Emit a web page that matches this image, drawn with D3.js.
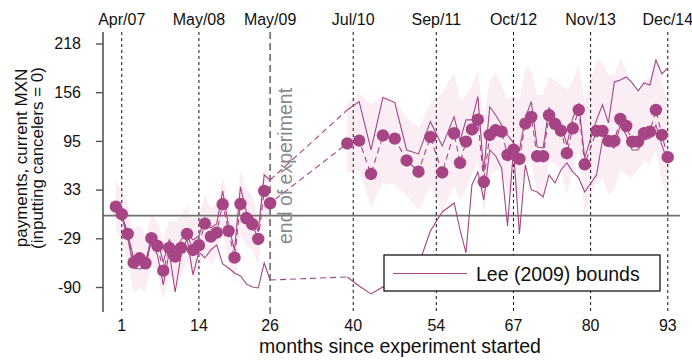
<!DOCTYPE html>
<html><head><meta charset="utf-8">
<script src="https://cdn.jsdelivr.net/npm/d3@7"></script>
<style>body{margin:0;background:#fff} svg{display:block} text{font-family:"Liberation Sans",Arial,Helvetica,sans-serif}</style>
</head><body><svg id="c" width="692" height="360"></svg>
<script>
// ---- data ----
const monthsExp = [0,1,2,3,4,5,6,7,8,9,10,11,12,13,14,15,16,17,18,19,20,21,22,23,24,25,26];
const meanExp  = [11.4,1.8,-23.2,-59.5,-54.0,-60.3,-28.6,-38.4,-69.7,-40.9,-51.9,-40.9,-23.2,-43.5,-37.5,-10.1,-26.6,-21.5,14.4,-19.4,-53.2,14.8,-3.3,-10.9,-29.5,31.3,15.7];
const upperExp = [12.3,2.2,-23.2,-53.6,-53.6,-58.7,-28.3,-30.8,-58.7,-30.8,-43.5,-30.8,-20.6,-30.8,-25.7,-2.9,-15.6,-10.5,31.3,-13.0,-43.5,36.4,4.7,-0.4,-20.6,51.6,45.2];
const lowerExp = [7.2,-1.6,-28.3,-66.3,-67.5,-66.3,-30.8,-49.8,-87.8,-46.0,-96.7,-49.8,-28.3,-75.1,-46.0,-53.6,-43.5,-37.1,-61.2,-66.3,-72.6,-76.4,-86.5,-90.3,-91.6,-59.9,-81.5];
const ciHiExp  = [44.0,32.6,13.6,-18.1,-11.8,-24.5,0.9,-8.0,-30.8,-5.4,-8.0,0.9,13.6,-8.0,0.9,26.2,9.8,13.6,47.8,19.9,-11.8,57.9,32.6,25.0,0.9,64.2,51.6];
const ciLoExp  = [-18.1,-30.8,-58.7,-96.7,-91.6,-96.7,-58.7,-71.3,-106.8,-75.1,-87.8,-75.1,-58.7,-78.9,-71.3,-43.5,-62.5,-53.6,-18.1,-56.1,-87.8,-24.5,-38.4,-43.5,-62.5,0.9,-18.1];

const monthsPost = [39,41,43,45,47,49,51,53,55,57,58,59,60,61,62,63,64,65,66,67,68,69,70,71,72,73,74,75,76,77,78,79,81,82,83,84,85,86,87,88,89,90,91,92,93];
const meanPost  = [91.5,95.0,52.8,101.6,97.6,69.9,55.7,99.7,54.7,104.4,66.8,93.8,109.2,121.6,42.7,102.2,108.2,106.4,76.9,83.6,71.8,116.6,125.1,75.3,75.3,127.2,116.2,107.6,79.1,110.7,133.9,65.1,107.3,107.3,94.6,94.6,122.5,113.6,93.8,93.8,104.4,106.4,133.9,102.2,74.0];
const upperPost = [133.9,144.4,83.2,149.8,143.2,83.2,78.2,119.1,88.3,125.4,94.6,121.3,121.3,150.8,55.4,137.7,127.6,114.9,102.2,92.1,83.2,123.8,144.4,87.0,85.8,136.5,123.8,116.2,89.6,123.8,141.5,73.1,121.3,140.3,117.5,169.4,171.9,175.7,168.1,158.0,168.1,165.6,197.3,179.5,187.1];
const lowerPost = [-77.7,-89.1,-99.2,-90.3,-94.1,-91.6,-62.5,-19.4,4.7,16.1,-18.1,-47.3,38.9,55.4,19.9,83.2,75.6,60.4,-13.0,83.2,-23.2,64.2,32.6,30.0,23.7,51.6,41.4,57.9,66.8,55.4,47.8,30.0,51.6,95.9,89.6,85.8,114.9,102.2,83.2,83.2,95.9,98.4,114.9,89.6,68.0];
const ciHiPost  = [142.8,155.5,140.3,152.9,146.6,123.8,111.1,142.8,155.5,180.8,146.6,150.4,165.6,184.6,121.3,171.9,182.1,165.6,146.6,152.9,146.6,187.1,184.6,152.9,152.9,175.7,171.9,165.6,159.3,171.9,190.9,146.6,197.3,194.7,178.3,178.3,199.8,184.6,159.3,159.3,171.9,174.5,197.3,171.9,142.8];
const ciLoPost  = [54.1,57.9,9.8,41.4,38.9,26.2,7.2,36.4,4.7,38.9,19.9,32.6,51.6,70.6,0.9,51.6,57.9,57.9,26.2,32.6,19.9,64.2,70.6,26.2,26.2,70.6,64.2,57.9,26.2,57.9,83.2,0.9,45.2,47.8,26.2,32.6,57.9,51.6,47.8,57.9,70.6,64.2,83.2,45.2,23.7];

const tickMonths = [1,14,26,40,54,67,80,93];
const dateLabels = ["Apr/07","May/08","May/09","Jul/10","Sep/11","Oct/12","Nov/13","Dec/14"];
const yTickVals = [-90.4,-28.7,33.0,94.7,156.4,218.1];
const yTickLabels = ["-90","-29","33","95","156","218"];
const endMonth = 26;

// ---- build rows ----
const rowsOf = (ms, mean, up, lo, hi, cl) => ms.map((m,i)=>({m, mean:mean[i], up:up[i], lo:lo[i], hi:hi[i], cl:cl[i]}));
const expRows = rowsOf(monthsExp, meanExp, upperExp, lowerExp, ciHiExp, ciLoExp);
const postRows = rowsOf(monthsPost, meanPost, upperPost, lowerPost, ciHiPost, ciLoPost);
const lastExp = expRows[expRows.length-1], firstPost = postRows[0];

// ---- scales ----
const x = d3.scaleLinear().domain([-2.16, 95.06]).range([103, 680]);
const y = d3.scaleLinear().domain([-90.4, 218.1]).range([287, 43.5]);
const col = '#a64485', bandCol = '#faeef4';
const svg = d3.select('#c');
const yTopPx = 32, yBotPx = 314;

// band
const area = d3.area().x(d=>x(d.m)).y0(d=>y(d.cl)).y1(d=>y(d.hi));
[expRows, postRows].forEach(r=>svg.append('path').attr('d', area(r)).attr('fill', bandCol));

// zero line
svg.append('line').attr('x1', x.range()[0]).attr('x2', x.range()[1]).attr('y1', y(0)).attr('y2', y(0))
  .attr('stroke', '#707070').attr('stroke-width', 1.6);

// vertical reference lines
tickMonths.forEach(m=>{
  const isEnd = m === endMonth;
  svg.append('line').attr('x1', x(m)).attr('x2', x(m)).attr('y1', yTopPx).attr('y2', yBotPx)
    .attr('stroke', isEnd ? '#7a7a7a' : '#111').attr('stroke-width', isEnd ? 1.8 : 1)
    .attr('stroke-dasharray', isEnd ? '7,4' : '3,3');
});

// end of experiment label
svg.append('text').attr('transform', `translate(${x(endMonth)+22},166) rotate(-90)`)
  .attr('text-anchor','middle').attr('fill','#8a8a8a').attr('font-size', 19.5).text('end of experiment');

// bound lines
const lineOf = key => d3.line().x(d=>x(d.m)).y(d=>y(d[key]));
[expRows, postRows].forEach(r=>{
  ['up','lo'].forEach(k=> svg.append('path').attr('d', lineOf(k)(r)).attr('fill','none').attr('stroke', col).attr('stroke-width', 1.1));
});
['up','lo'].forEach(k=> svg.append('path').attr('d', lineOf(k)([lastExp, firstPost])).attr('fill','none')
  .attr('stroke', col).attr('stroke-width', 1.1).attr('stroke-dasharray','6,4'));

// mean line (dashed) and dots
const allRows = expRows.concat(postRows);
svg.append('path').attr('d', lineOf('mean')(allRows)).attr('fill','none').attr('stroke', col)
  .attr('stroke-width', 1.1).attr('stroke-dasharray','6,4');
svg.selectAll('circle.pt').data(allRows).join('circle').attr('class','pt')
  .attr('cx', d=>x(d.m)).attr('cy', d=>y(d.mean)).attr('r', 6.2).attr('fill', col);

// y axis
svg.append('line').attr('x1', x.range()[0]).attr('x2', x.range()[0]).attr('y1', yTopPx).attr('y2', yBotPx-2)
  .attr('stroke', '#555').attr('stroke-width', 1.6);
const yAx = svg.append('g').attr('transform', `translate(${x.range()[0]},0)`)
  .call(d3.axisLeft(y).tickValues(yTickVals).tickFormat((d,i)=>yTickLabels[i]).tickSize(7).tickPadding(15));
yAx.select('.domain').remove();
yAx.selectAll('.tick line').attr('stroke','#555').attr('stroke-width',1.4);
yAx.selectAll('.tick text').attr('font-size', 16).attr('fill','#111').attr('font-family','Liberation Sans, Arial, sans-serif');

// bottom month labels
svg.selectAll('text.bm').data(tickMonths).join('text').attr('class','bm')
  .attr('x', d=>x(d)).attr('y', 331).attr('text-anchor','middle').attr('font-size', 16).attr('fill','#111').text(d=>d);
// top date labels
svg.selectAll('text.tm').data(tickMonths).join('text').attr('class','tm')
  .attr('x', d=>x(d)).attr('y', 25).attr('text-anchor','middle').attr('font-size', 16).attr('fill','#111').text((d,i)=>dateLabels[i]);

// axis titles
svg.append('text').attr('x', 400).attr('y', 353).attr('text-anchor','middle').attr('font-size', 19.5).attr('fill','#111')
  .text('months since experiment started');
svg.append('text').attr('transform','translate(27,158) rotate(-90)').attr('text-anchor','middle').attr('font-size',17).attr('fill','#111')
  .text('payments, current MXN');
svg.append('text').attr('transform','translate(43,158) rotate(-90)').attr('text-anchor','middle').attr('font-size',17).attr('fill','#111')
  .text('(inputting cancelers = 0)');

// legend
const lg = svg.append('g');
lg.append('rect').attr('x',384).attr('y',255).attr('width',276).attr('height',36).attr('fill','#fff').attr('stroke','#000').attr('stroke-width',1.2);
lg.append('line').attr('x1',393).attr('x2',467).attr('y1',273.5).attr('y2',273.5).attr('stroke',col).attr('stroke-width',1.1);
lg.append('text').attr('x',476).attr('y',281).attr('font-size',19.5).attr('fill','#111').text('Lee (2009) bounds');
</script></body></html>
